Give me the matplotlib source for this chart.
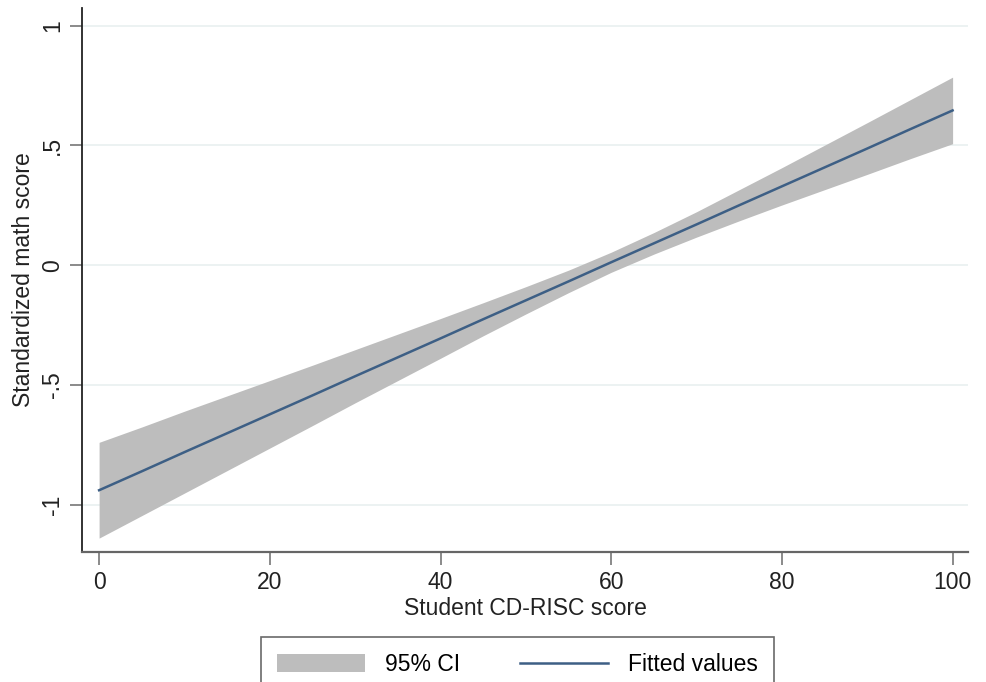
import matplotlib.pyplot as plt
import numpy as np

plt.rcParams['font.family'] = ['Liberation Sans', 'DejaVu Sans']

score = [0, 5, 10, 15, 20, 25, 30, 35, 40, 45, 50, 55, 60, 65, 70, 75, 80, 85, 90, 95, 100]
fitted = [-0.940, -0.861, -0.781, -0.702, -0.623, -0.544, -0.464, -0.385, -0.306, -0.226, -0.147,
          -0.068, 0.012, 0.091, 0.170, 0.250, 0.329, 0.408, 0.487, 0.567, 0.646]
ci_upper = [-0.740, -0.676, -0.610, -0.546, -0.482, -0.418, -0.353, -0.288, -0.223, -0.157, -0.090,
            -0.021, 0.054, 0.136, 0.223, 0.315, 0.407, 0.501, 0.595, 0.690, 0.785]
ci_lower = [-1.140, -1.046, -0.952, -0.858, -0.764, -0.670, -0.575, -0.482, -0.389, -0.295, -0.204,
            -0.115, -0.030, 0.046, 0.117, 0.185, 0.251, 0.315, 0.379, 0.444, 0.507]

xticks = [0, 20, 40, 60, 80, 100]
yticks = [-1, -0.5, 0, 0.5, 1]
ylabels = ['-1', '-.5', '0', '.5', '1']

fs = 16.5

fig = plt.figure(figsize=(9.86, 6.82), dpi=100)
ax = fig.add_axes([0.0832, 0.1906, 0.8985, 0.7974])

band = ax.fill_between(score, ci_lower, ci_upper, color='#bdbdbd', lw=0, label='95% CI')
line, = ax.plot(score, fitted, color='#3d5f85', lw=1.8, label='Fitted values')

ax.set_xlim(-2.0, 101.8)
ax.set_ylim(-1.198, 1.073)
ax.set_xticks(xticks)
ax.set_yticks(yticks)
ax.set_yticklabels(ylabels)
ax.grid(axis='y', color='#e9f0f0', lw=1.2)
ax.set_axisbelow(True)

for s in ['top', 'right']:
    ax.spines[s].set_visible(False)
ax.spines['left'].set_color('#222222')
ax.spines['bottom'].set_color('#666666')
ax.spines['left'].set_linewidth(1.3)
ax.spines['bottom'].set_linewidth(1.6)

ax.tick_params(axis='both', direction='out', length=9, width=1.2, color='#777777',
               labelsize=fs, labelcolor='#222222', pad=5)
ax.tick_params(axis='y', labelrotation=90, pad=4)
for t in ax.get_yticklabels():
    t.set_va('center')

ax.set_xlabel('Student CD-RISC score', fontsize=fs, color='#222222', labelpad=2)
ax.set_ylabel('Standardized math score', fontsize=fs, color='#222222', labelpad=4)

# legend box runs off the bottom edge, as in the original export
leg = fig.legend(handles=[band, line], loc='upper center', bbox_to_anchor=(0.525, 0.066),
                 borderaxespad=0, ncol=2, frameon=True, fancybox=False, edgecolor='#444444',
                 fontsize=fs, handlelength=3.85, handleheight=0.8,
                 handletextpad=0.87, columnspacing=2.6, borderpad=0.7)
leg.get_frame().set_linewidth(1.2)

fig.savefig('out.png', dpi=100)
